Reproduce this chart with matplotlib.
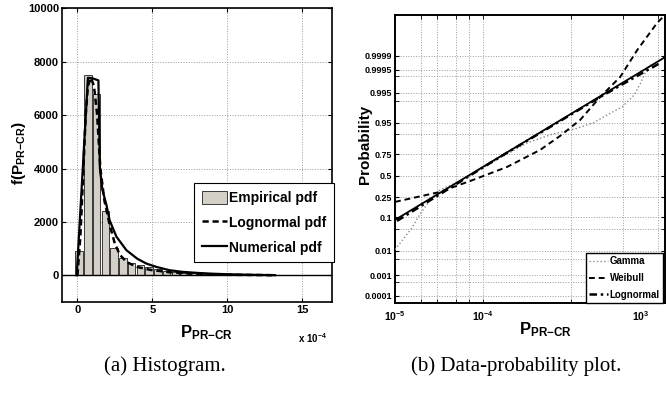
import math
import numpy as np
import matplotlib
matplotlib.use("Agg")
import matplotlib.pyplot as plt
from matplotlib.patches import Patch
from matplotlib.lines import Line2D
from matplotlib.ticker import FixedLocator, NullFormatter

# ---- (a) histogram data, x in units of 1e-4 ----
bin_centers = [0.11, 0.70, 1.28, 1.87, 2.45, 3.04, 3.62, 4.21, 4.79, 5.38, 5.96, 6.55,
               7.13, 7.72, 8.30, 8.89, 9.47, 10.06, 10.64, 11.23, 11.81, 12.40, 12.98]
emp_pdf = [920, 7500, 6800, 2400, 1030, 640, 470, 370, 300, 230, 170, 130,
           100, 80, 60, 50, 40, 30, 25, 20, 15, 10, 8]

logn_x = [0.0, 0.2, 0.37, 0.55, 0.7, 0.9, 1.1, 1.31, 1.53, 1.8, 2.15, 2.49, 2.82,
          3.27, 4.0, 4.9, 6.2, 8.0, 10.0, 13.0]
logn_y = [0, 1500, 3600, 6000, 7100, 7400, 7100, 6050, 4000, 2800, 1900, 1200, 780,
          500, 310, 200, 110, 50, 20, 5]

num_x = [-0.05, 0.3, 0.7, 1.0, 1.4, 1.5, 1.67, 1.93, 2.15, 2.6, 3.27, 4.0, 4.6, 5.3,
         6.15, 7.0, 8.0, 9.0, 10.0, 11.5, 13.2]
num_y = [0, 3450, 7400, 7380, 7300, 4000, 3190, 2650, 2060, 1450, 940, 620, 440, 310,
         190, 130, 90, 60, 40, 20, 5]

# ---- (b) probability plot data ----
ref_x = [1e-5, 0.0119]
ref_p = [0.0852, 0.999884]

logn_px = [1.054e-5, 4.24e-5, 1.574e-4, 5.85e-4, 2.18e-3, 4.79e-3, 1.05e-2]
logn_pp = [0.0805, 0.353, 0.721, 0.935, 0.9928, 0.99855, 0.99977]

gamma_x = [1.0e-5, 1.27e-5, 1.56e-5, 1.93e-5, 2.51e-5, 3.26e-5, 5.51e-5, 1.574e-4,
           3.20e-4, 6.33e-4, 1.128e-3, 1.81e-3, 2.61e-3, 3.87e-3, 5.31e-3, 6.21e-3,
           7.27e-3, 8.07e-3]
gamma_p = [0.011, 0.0268, 0.0526, 0.118, 0.2266, 0.330, 0.4365, 0.710, 0.846, 0.9032,
           0.9272, 0.9496, 0.9706, 0.9838, 0.9940, 0.99783, 0.99944, 0.99974]

weib_x = [1.0e-5, 3.26e-5, 7.74e-5, 1.89e-4, 4.50e-4, 7.60e-4, 1.285e-3, 2.18e-3,
          3.68e-3, 5.75e-3, 9.73e-3, 0.0119]
weib_p = [0.2084, 0.308, 0.4487, 0.608, 0.789, 0.892, 0.9585, 0.99284, 0.99893,
          0.999953, 0.9999990, 0.9999997]

prob_labels = [0.0001, 0.001, 0.01, 0.1, 0.25, 0.5, 0.75, 0.95, 0.995, 0.9995, 0.9999]
prob_grid_extra = [0.0005, 0.005, 0.05, 0.9, 0.99, 0.999]
x_grid = [2e-5, 3e-5, 5e-5, 7e-5, 1e-4, 1e-3, 4e-3, 1e-2]
x_label_pos = [1e-5, 1e-4, 6.3e-3]
x_label_txt = [r"$10^{-5}$", r"$10^{-4}$", r"$10^{3}$"]


def norm_ppf(p):
    p = np.clip(np.asarray(p, dtype=float), 1e-15, 1 - 1e-15)
    a = [-3.969683028665376e+01, 2.209460984245205e+02, -2.759285104469687e+02,
         1.383577518672690e+02, -3.066479806614716e+01, 2.506628277459239e+00]
    b = [-5.447609879822406e+01, 1.615858368580409e+02, -1.556989798598866e+02,
         6.680131188771972e+01, -1.328068155288572e+01]
    c = [-7.784894002430293e-03, -3.223964580411365e-01, -2.400758277161838e+00,
         -2.549732539343734e+00, 4.374664141464968e+00, 2.938163982698783e+00]
    d = [7.784695709041462e-03, 3.224671290700398e-01, 2.445134137142996e+00,
         3.754408661907416e+00]
    plow = 0.02425
    q = p - 0.5
    r = q * q
    mid = ((((((a[0]*r + a[1])*r + a[2])*r + a[3])*r + a[4])*r + a[5]) * q /
           (((((b[0]*r + b[1])*r + b[2])*r + b[3])*r + b[4])*r + 1))
    ql = np.sqrt(-2 * np.log(p))
    low = ((((((c[0]*ql + c[1])*ql + c[2])*ql + c[3])*ql + c[4])*ql + c[5]) /
           ((((d[0]*ql + d[1])*ql + d[2])*ql + d[3])*ql + 1))
    qu = np.sqrt(-2 * np.log(1 - p))
    up = -((((((c[0]*qu + c[1])*qu + c[2])*qu + c[3])*qu + c[4])*qu + c[5]) /
           ((((d[0]*qu + d[1])*qu + d[2])*qu + d[3])*qu + 1))
    return np.where(p < plow, low, np.where(p > 1 - plow, up, mid))


_erfc = np.vectorize(math.erfc)


def norm_cdf(z):
    return 0.5 * _erfc(-np.asarray(z, dtype=float) / math.sqrt(2))


plt.rcParams["font.family"] = ["Liberation Sans", "DejaVu Sans"]
plt.rcParams["font.weight"] = "bold"
plt.rcParams["axes.labelweight"] = "bold"
plt.rcParams["mathtext.fontset"] = "custom"
plt.rcParams["mathtext.rm"] = "Liberation Sans:bold"
plt.rcParams["mathtext.it"] = "Liberation Sans:bold"
plt.rcParams["mathtext.bf"] = "Liberation Sans:bold"

fig = plt.figure(figsize=(6.66, 3.94), dpi=100)
ax1 = fig.add_axes([0.0938, 0.2335, 0.4047, 0.7454])
ax2 = fig.add_axes([0.5931, 0.2302, 0.4054, 0.7317])

gridkw = dict(ls=":", color="#9a9a9a", lw=0.7)

# ---------- (a) ----------
ax1.bar(bin_centers, emp_pdf, width=0.5, color="#d4d0c8", edgecolor="#3a3a3a",
        lw=0.7, zorder=2)
ax1.axhline(0, color="k", lw=1.0, zorder=3)
ax1.plot(logn_x, logn_y, color="k", ls="--", dashes=(2.5, 1.5), lw=1.8, zorder=4)
ax1.plot(num_x, num_y, color="k", lw=1.6, zorder=5)
ax1.set_xlim(-1, 17)
ax1.set_ylim(-1000, 10000)
ax1.set_xticks([0, 5, 10, 15])
ax1.set_yticks(range(0, 10001, 2000))
ax1.grid(True, **gridkw)
ax1.set_axisbelow(True)
ax1.tick_params(direction="in", top=True, right=True, labelsize=8, length=3, pad=2.5)
for s in ax1.spines.values():
    s.set_linewidth(1.2)
ax1.set_ylabel(r"$\mathbf{f(P_{PR{-}CR})}$", fontsize=11)
ax1.yaxis.set_label_coords(-0.128, 0.506)

leg_handles = [Patch(facecolor="#d4d0c8", edgecolor="#3a3a3a", lw=0.7),
               Line2D([], [], color="k", ls="--", dashes=(2.5, 1.5), lw=1.8),
               Line2D([], [], color="k", lw=1.6)]
leg1 = ax1.legend(leg_handles, ["Empirical pdf", "Lognormal pdf", "Numerical pdf"],
                  loc="upper left", bbox_to_anchor=(0.488, 0.405), fontsize=10,
                  frameon=True, fancybox=False, edgecolor="k", framealpha=1,
                  handlelength=1.8, handleheight=1.1, handletextpad=0.2,
                  borderaxespad=0, labelspacing=0.75, borderpad=0.55)
leg1.get_frame().set_linewidth(0.8)

fig.text(206 / 666, 1 - 323 / 394, r"$\mathbf{P_{PR{-}CR}}$", fontsize=12,
         ha="center", va="top")
fig.text(312 / 666, 1 - 331 / 394, r"x 10$^{-4}$", fontsize=7, ha="center", va="top")

# ---------- (b) ----------
ax2.set_xscale("log")
ax2.set_yscale("function", functions=(norm_ppf, norm_cdf))

ax2.plot(ref_x, ref_p, color="k", lw=1.3, zorder=4)
ax2.plot(gamma_x, gamma_p, color="#8a8a8a", ls=":", lw=1.0, label="Gamma", zorder=3)
ax2.plot(weib_x, weib_p, color="k", ls="--", dashes=(3, 2), lw=1.4, label="Weibull",
         zorder=4)
ax2.plot(logn_px, logn_pp, color="k", ls="-.", dashes=(3, 1.5, 1, 1.5), lw=1.8,
         label="Lognormal", zorder=5)

ax2.set_xlim(1e-5, 0.0119)
ax2.set_ylim(3.75e-5, 0.9999997)

ax2.xaxis.remove_overlapping_locs = False
ax2.xaxis.set_major_locator(FixedLocator(x_label_pos))
ax2.set_xticklabels(x_label_txt)
ax2.xaxis.set_minor_locator(FixedLocator(x_grid))
ax2.xaxis.set_minor_formatter(NullFormatter())
ax2.tick_params(axis="x", which="major", length=0, labelsize=7.5, pad=4)
ax2.tick_params(axis="x", which="minor", direction="in", length=3, top=True)
ax2.grid(True, axis="x", which="minor", **gridkw)

ax2.yaxis.set_major_locator(FixedLocator(prob_labels))
ax2.set_yticklabels([str(v) for v in prob_labels])
ax2.yaxis.set_minor_locator(FixedLocator(prob_grid_extra))
ax2.yaxis.set_minor_formatter(NullFormatter())
ax2.tick_params(axis="y", which="both", direction="in", length=3, right=True,
                labelsize=6.5, pad=2)
ax2.grid(True, axis="y", which="both", **gridkw)
ax2.set_axisbelow(True)
for s in ax2.spines.values():
    s.set_linewidth(1.4)
ax2.set_ylabel("Probability", fontsize=11)
ax2.yaxis.set_label_coords(-0.085, 0.553)

leg2 = ax2.legend(loc="lower right", bbox_to_anchor=(0.993, 0.0), fontsize=7,
                  frameon=True, fancybox=False, edgecolor="k", framealpha=1,
                  handlelength=1.9, handletextpad=0.2, borderaxespad=0,
                  labelspacing=0.7, borderpad=0.35)
leg2.get_frame().set_linewidth(1.0)

fig.text(545 / 666, 1 - 320 / 394, r"$\mathbf{P_{PR{-}CR}}$", fontsize=12,
         ha="center", va="top")

# captions
fig.text(165 / 666, 1 - 366 / 394, "(a) Histogram.", family="Liberation Serif",
         fontweight="normal", fontsize=15, ha="center", va="center")
fig.text(516 / 666, 1 - 366 / 394, "(b) Data-probability plot.", family="Liberation Serif",
         fontweight="normal", fontsize=15, ha="center", va="center")

fig.savefig("out.png", dpi=100)
